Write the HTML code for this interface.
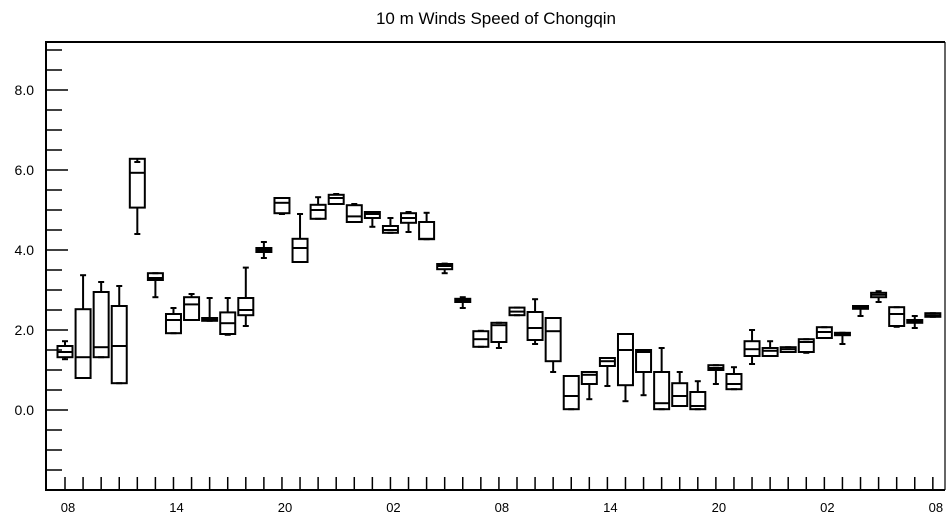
<!DOCTYPE html>
<html><head><meta charset="utf-8"><style>
html,body{margin:0;padding:0;background:#fff;}
svg{display:block;font-family:"Liberation Sans",Arial,sans-serif;}
</style></head><body>
<svg id="chart" width="952" height="520" viewBox="0 0 952 520">
<text x="496" y="24" text-anchor="middle" font-size="17">10 m Winds Speed of Chongqin</text>
<g id="axes"></g>
<g id="boxes"></g>
</svg>
<script>
const hiVals  = [1.72,3.37,3.2,3.1,6.2,3.42,2.55,2.9,2.8,2.8,3.56,4.2,5.3,4.9,5.32,5.4,5.15,4.95,4.8,4.95,4.93,3.66,2.82,1.98,2.18,2.56,2.77,2.3,0.85,0.95,1.3,1.9,1.5,1.55,0.95,0.72,1.12,1.07,2.0,1.72,1.57,1.77,2.07,1.93,2.6,2.97,2.57,2.35,2.42];
const q3Vals  = [1.6,2.52,2.95,2.6,6.28,3.42,2.4,2.82,2.3,2.44,2.8,4.05,5.3,4.28,5.13,5.38,5.12,4.95,4.6,4.92,4.7,3.65,2.78,1.97,2.18,2.56,2.45,2.3,0.85,0.95,1.3,1.9,1.5,0.95,0.67,0.45,1.12,0.9,1.72,1.55,1.57,1.77,2.07,1.93,2.6,2.93,2.57,2.25,2.42];
const medVals = [1.45,1.32,1.57,1.6,5.93,3.3,2.25,2.64,2.27,2.17,2.5,4.0,5.18,4.05,5.0,5.3,4.84,4.9,4.5,4.8,4.28,3.6,2.75,1.77,2.12,2.46,2.05,1.97,0.35,0.88,1.22,1.5,1.45,0.17,0.35,0.1,1.05,0.65,1.52,1.48,1.52,1.7,1.95,1.9,2.57,2.88,2.4,2.22,2.37];
const q1Vals  = [1.32,0.8,1.32,0.67,5.06,3.25,1.92,2.25,2.23,1.9,2.37,3.95,4.92,3.7,4.78,5.15,4.7,4.8,4.43,4.68,4.27,3.52,2.7,1.58,1.7,2.37,1.75,1.22,0.02,0.65,1.1,0.62,0.95,0.02,0.1,0.02,1.0,0.52,1.35,1.35,1.45,1.45,1.8,1.87,2.53,2.82,2.1,2.18,2.33];
const loVals  = [1.27,0.8,1.32,0.67,4.4,2.82,1.92,2.25,2.23,1.88,2.1,3.8,4.9,3.7,4.78,5.15,4.7,4.58,4.43,4.45,4.27,3.42,2.55,1.58,1.55,2.37,1.65,0.95,0.02,0.27,0.6,0.22,0.37,0.02,0.1,0.02,0.65,0.52,1.15,1.35,1.45,1.43,1.8,1.65,2.35,2.7,2.08,2.05,2.33];
const xTickLabels = ["08","14","20","02","08","14","20","02","08"];
const yTickLabels = ["0.0","2.0","4.0","6.0","8.0"];

const NS="http://www.w3.org/2000/svg";
const L=46,R=945,T=42,B=490,YMIN=-2,YMAX=9.2;
const X0=65,DX=18.08;
const ys=v=>B-(v-YMIN)/(YMAX-YMIN)*(B-T);
const xs=i=>X0+i*DX;
function mk(tag,attrs,parent){const e=document.createElementNS(NS,tag);for(const k in attrs)e.setAttribute(k,attrs[k]);parent.appendChild(e);return e;}
const ax=document.getElementById('axes'), bx=document.getElementById('boxes');

let f=mk('line',{x1:L,y1:T,x2:R,y2:T,stroke:'#000','stroke-width':2},ax);


f=mk('line',{x1:R,y1:T,x2:R,y2:B,stroke:'#000','stroke-width':1.2},ax);


f=mk('line',{x1:L,y1:T-1,x2:L,y2:B+1,stroke:'#000','stroke-width':2},ax);


f=mk('line',{x1:L-1,y1:B,x2:R,y2:B,stroke:'#000','stroke-width':2},ax);



// y ticks every 0.5
for(let v=-1.5;v<=9.0001;v+=0.5){
  const major=Math.abs(v/2-Math.round(v/2))<1e-6 && v>=0;
  const t=mk('line',{x1:L,y1:ys(v),x2:L+(major?22:16),y2:ys(v),stroke:'#000','stroke-width':1.5},ax);
  
  
}
yTickLabels.forEach(s=>{
  const t=mk('text',{x:34,y:ys(parseFloat(s))+5,'text-anchor':'end','font-size':14},ax);
  t.textContent=s;
  
  
});
// x ticks hourly
for(let i=0;i<hiVals.length;i++){
  const t=mk('line',{x1:xs(i),y1:B,x2:xs(i),y2:B-13,stroke:'#000','stroke-width':1.5},ax);
  
  
}
xTickLabels.forEach((s,k)=>{
  const t=mk('text',{x:xs(k*6)+3,y:512,'text-anchor':'middle','font-size':13},ax);
  t.textContent=s;
  
  
});
// boxes
const W=7.5;
for(let i=0;i<hiVals.length;i++){
  const g=mk('g',{stroke:'#000','stroke-width':2,fill:'none'},bx);
  
  
  const x=xs(i);
  mk('line',{x1:x,y1:ys(hiVals[i]),x2:x,y2:ys(q3Vals[i])},g);
  mk('line',{x1:x,y1:ys(q1Vals[i]),x2:x,y2:ys(loVals[i])},g);
  mk('line',{x1:x-3,y1:ys(hiVals[i]),x2:x+3,y2:ys(hiVals[i])},g);
  mk('line',{x1:x-3,y1:ys(loVals[i]),x2:x+3,y2:ys(loVals[i])},g);
  mk('rect',{x:x-W,y:ys(q3Vals[i]),width:2*W,height:Math.max(1,ys(q1Vals[i])-ys(q3Vals[i]))},g);
  mk('line',{x1:x-W,y1:ys(medVals[i]),x2:x+W,y2:ys(medVals[i])},g);
}
</script>
</body></html>
